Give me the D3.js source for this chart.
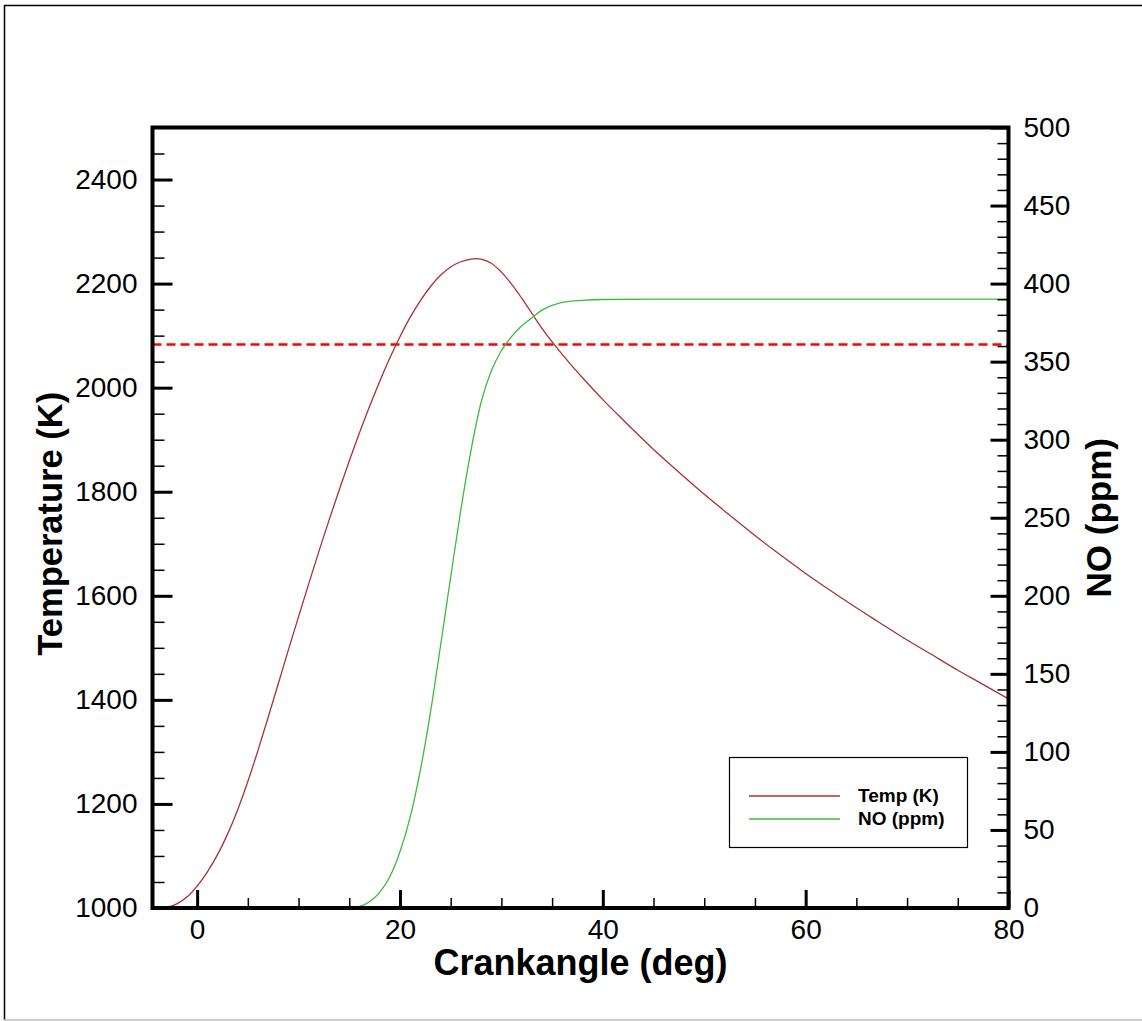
<!DOCTYPE html>
<html>
<head>
<meta charset="utf-8">
<script src="https://cdn.jsdelivr.net/npm/d3@7"></script>
<style>
  html, body { margin: 0; padding: 0; background: #fff; }
  svg { display: block; }
  text { font-family: "Liberation Sans", Arial, Helvetica, sans-serif; fill: #000; }
</style>
</head>
<body>
<svg id="chart" width="1142" height="1021"></svg>
<script>
// ---------------- data ----------------
const tempCrank = [-3, -2, -1, 0, 1, 2, 3, 4, 5, 6, 7, 8, 9, 10, 11, 12, 13, 14, 15, 16, 17, 18, 19, 20, 21, 22, 23, 24, 25, 26, 27, 27.5, 28, 29, 30, 31, 32, 33, 34, 35, 36, 37, 38, 40, 42, 44, 45, 47, 50, 52, 55, 57, 60, 62, 65, 67, 70, 72, 75, 77, 80];
const tempK     = [1001, 1008, 1021, 1042, 1069, 1102, 1142, 1189, 1243, 1303, 1366, 1431, 1496, 1560, 1623, 1685, 1745, 1803, 1859, 1913, 1964, 2012, 2057, 2098, 2135, 2167, 2194, 2216, 2232, 2242, 2247, 2248, 2247, 2239, 2222, 2199, 2172, 2143, 2114, 2088, 2064, 2041, 2019, 1977, 1938, 1900, 1881, 1846, 1795, 1763, 1716, 1686, 1643, 1616, 1577, 1552, 1515, 1492, 1457, 1435, 1402];
const noCrank   = [15, 16, 17, 18, 19, 20, 21, 22, 23, 24, 25, 26, 27, 28, 29, 30, 31, 32, 33, 34, 35, 36, 38, 40, 45, 50, 60, 70, 80];
const noPpm     = [0, 1, 4, 10, 20, 36, 58, 88, 125, 168, 212, 255, 293, 324, 344, 357, 366, 373, 378, 383, 386, 388, 389.3, 389.8, 390, 390, 390, 390, 390];
const refTemp = 2083;               // red dashed reference level (K)
const xMajorTicks = [0, 20, 40, 60, 80];
const yLeftMajorTicks = [1000, 1200, 1400, 1600, 1800, 2000, 2200, 2400];
const yRightMajorTicks = [0, 50, 100, 150, 200, 250, 300, 350, 400, 450, 500];
const xDomain = [-4.4, 80];
const yLeftDomain = [1000, 2500];
const yRightDomain = [0, 500];
const seriesNames = ["Temp (K)", "NO (ppm)"];
const axisTitles = { x: "Crankangle (deg)", yLeft: "Temperature (K)", yRight: "NO (ppm)" };

// ---------------- layout ----------------
const svg = d3.select("#chart");
const L = 152.5, R = 1008.5, T = 127.5, B = 908;
const x = d3.scaleLinear().domain(xDomain).range([L, R]);
const yL = d3.scaleLinear().domain(yLeftDomain).range([B, T]);
const yR = d3.scaleLinear().domain(yRightDomain).range([B, T]);

const colTemp = "#a83232";
const colNO = "#3dbb3d";

// outer border
svg.append("line").attr("x1", 4.5).attr("x2", 4.5).attr("y1", 5).attr("y2", 1020).attr("stroke", "#000").attr("stroke-width", 1.5);
svg.append("line").attr("x1", 4).attr("x2", 1142).attr("y1", 5.5).attr("y2", 5.5).attr("stroke", "#000").attr("stroke-width", 1.5);
svg.append("line").attr("x1", 4).attr("x2", 1142).attr("y1", 1020).attr("y2", 1020).attr("stroke", "#bbb").attr("stroke-width", 1.5);

svg.append("clipPath").attr("id", "clip").append("rect")
  .attr("x", L).attr("y", T).attr("width", R - L).attr("height", B - T);

const plot = svg.append("g").attr("clip-path", "url(#clip)");

// red dashed reference line
plot.append("line")
  .attr("x1", L).attr("x2", R)
  .attr("y1", yL(refTemp)).attr("y2", yL(refTemp))
  .attr("stroke", "#ff0000").attr("stroke-width", 2.5).attr("stroke-dasharray", "9,5");

const lineT = d3.line().x((d, i) => x(tempCrank[i])).y(d => yL(d)).curve(d3.curveCatmullRom.alpha(0.5));
const lineN = d3.line().x((d, i) => x(noCrank[i])).y(d => yR(d)).curve(d3.curveMonotoneX);

plot.append("path").attr("d", lineT(tempK)).attr("fill", "none").attr("stroke", colTemp).attr("stroke-width", 1.3);
plot.append("path").attr("d", lineN(noPpm)).attr("fill", "none").attr("stroke", colNO).attr("stroke-width", 1.3);

// ---------------- axes ----------------
function styleAxis(g, majorWidth) {
  g.select(".domain").remove();
  g.selectAll(".tick line").attr("stroke", "#000").attr("stroke-width", majorWidth);
  g.selectAll(".tick text").style("font-size", "28px").attr("fill", "#000");
}

// x axis
const xMinor = d3.range(-0, 81, 5).filter(v => xMajorTicks.indexOf(v) < 0);
const gxMinor = svg.append("g").attr("transform", `translate(0,${B})`)
  .call(d3.axisBottom(x).tickValues(xMinor).tickFormat("").tickSizeInner(-10).tickSizeOuter(0));
styleAxis(gxMinor, 1.5);
const gx = svg.append("g").attr("transform", `translate(0,${B})`)
  .call(d3.axisBottom(x).tickValues(xMajorTicks).tickFormat(d3.format("d")).tickSizeInner(-18).tickSizeOuter(0).tickPadding(11));
styleAxis(gx, 3);

// left axis
const yLMinor = d3.range(1050, 2500, 50).filter(v => v % 200 !== 0);
const gyLMinor = svg.append("g").attr("transform", `translate(${L},0)`)
  .call(d3.axisLeft(yL).tickValues(yLMinor).tickFormat("").tickSizeInner(-12).tickSizeOuter(0));
styleAxis(gyLMinor, 1.5);
const gyL = svg.append("g").attr("transform", `translate(${L},0)`)
  .call(d3.axisLeft(yL).tickValues(yLeftMajorTicks).tickFormat(d3.format("d")).tickSizeInner(-20).tickSizeOuter(0).tickPadding(15));
styleAxis(gyL, 3);

// right axis
const yRMinor = d3.range(10, 500, 10).filter(v => v % 50 !== 0);
const gyRMinor = svg.append("g").attr("transform", `translate(${R},0)`)
  .call(d3.axisRight(yR).tickValues(yRMinor).tickFormat("").tickSizeInner(-11).tickSizeOuter(0));
styleAxis(gyRMinor, 1.5);
const gyR = svg.append("g").attr("transform", `translate(${R},0)`)
  .call(d3.axisRight(yR).tickValues(yRightMajorTicks).tickFormat(d3.format("d")).tickSizeInner(-18).tickSizeOuter(0).tickPadding(15));
styleAxis(gyR, 3);

// frame
svg.append("rect").attr("x", L).attr("y", T).attr("width", R - L).attr("height", B - T)
  .attr("fill", "none").attr("stroke", "#000").attr("stroke-width", 4);

// titles
svg.append("text").attr("x", (L + R) / 2).attr("y", 975).attr("text-anchor", "middle")
  .style("font-size", "36px").style("font-weight", "bold").text(axisTitles.x);
svg.append("text").attr("transform", `translate(62,${(T + B) / 2 + 6}) rotate(-90)`).attr("text-anchor", "middle")
  .style("font-size", "34.5px").style("font-weight", "bold").text(axisTitles.yLeft);
svg.append("text").attr("transform", `translate(1111,${(T + B) / 2}) rotate(-90)`).attr("text-anchor", "middle")
  .style("font-size", "35px").style("font-weight", "bold").text(axisTitles.yRight);

// legend
const lg = svg.append("g");
lg.append("rect").attr("x", 729.5).attr("y", 757.5).attr("width", 238).attr("height", 90)
  .attr("fill", "#fff").attr("stroke", "#000").attr("stroke-width", 1.2);
const legendColors = [colTemp, colNO];
seriesNames.forEach((name, i) => {
  const yy = 796 + i * 23;
  lg.append("line").attr("x1", 749).attr("x2", 840).attr("y1", yy).attr("y2", yy)
    .attr("stroke", legendColors[i]).attr("stroke-width", 1.3);
  lg.append("text").attr("x", 858).attr("y", yy + 6).style("font-size", "19px").style("font-weight", "bold").text(name);
});
</script>
</body>
</html>
